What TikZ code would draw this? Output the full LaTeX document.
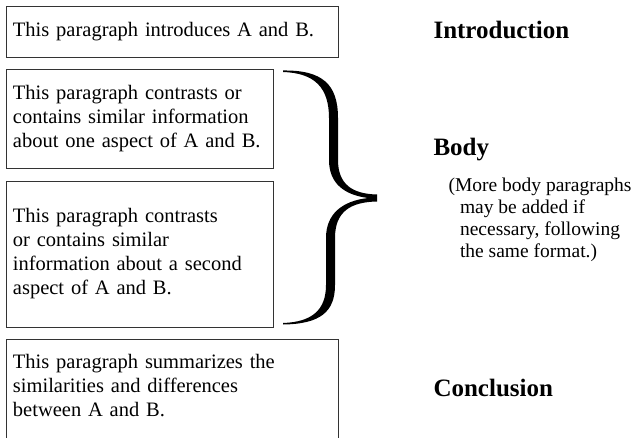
\documentclass[tikz,border=0pt]{standalone}
\usepackage{fontspec}
\setmainfont{Liberation Serif}
\usetikzlibrary{positioning}
\definecolor{boxline}{HTML}{333333}

\begin{document}
\begin{tikzpicture}[x=1pt,y=-1pt,
  para/.style={draw=boxline,line width=0.9pt,anchor=north west,align=left,inner xsep=6.5pt,inner ysep=0pt,font=\fontsize{20.5}{24}\selectfont},
  wide/.style={para,text width=319pt},
  narrow/.style={para,text width=254pt},
  part/.style={anchor=base west,font=\fontsize{25}{30}\selectfont\bfseries},
  note/.style={anchor=base west,align=left,font=\fontsize{19.5}{22}\selectfont}]
\useasboundingbox (0,0) rectangle (644,438);
\clip (0,0) rectangle (644,438);
% paragraph boxes
\node[wide,text height=30pt,text depth=21pt] (intro) at (6,6) {This paragraph introduces A and B.};
\node[narrow,text height=30pt,text depth=69pt] (aspa) at (6,69) {This paragraph contrasts or\\contains similar information\\about one aspect of A and B.};
\node[narrow,text height=41pt,text depth=105pt] (aspb) at (6,181) {This paragraph contrasts\\or contains similar\\information about a second\\aspect of A and B.};
\node[wide,text height=29pt,text depth=120pt] (summ) at (6,339) {This paragraph summarizes the\\similarities and differences\\between A and B.};
% brace over the two body boxes
\fill (283,70.5) .. controls (322,70) and (338,84) .. (338,118) -- (338,160)
  .. controls (338,184) and (352,194) .. (377,194.5) -- (377,201.5)
  .. controls (350,202) and (335,212) .. (335,238) -- (335,285)
  .. controls (335,312) and (320,324) .. (283,324.5) -- (283,323)
  .. controls (312,322) and (326,310) .. (326,285) -- (326,238)
  .. controls (326,214) and (342,201) .. (368,198)
  .. controls (345,195) and (329,184) .. (329,160) -- (329,118)
  .. controls (329,88) and (315,73) .. (283,72) -- cycle;
% part names (note is set by its last line)
\node[part] (introname) at (430,39) {Introduction};
\node[part] (bodyname) at (430,156) {Body};
\node[note] (more) at (445,257) {(More body paragraphs\\\hspace*{11.5pt}may be added if\\\hspace*{11.5pt}necessary, following\\\hspace*{11.5pt}the same format.)};
\node[part] (conclname) at (430,396) {Conclusion};
\end{tikzpicture}
\end{document}
